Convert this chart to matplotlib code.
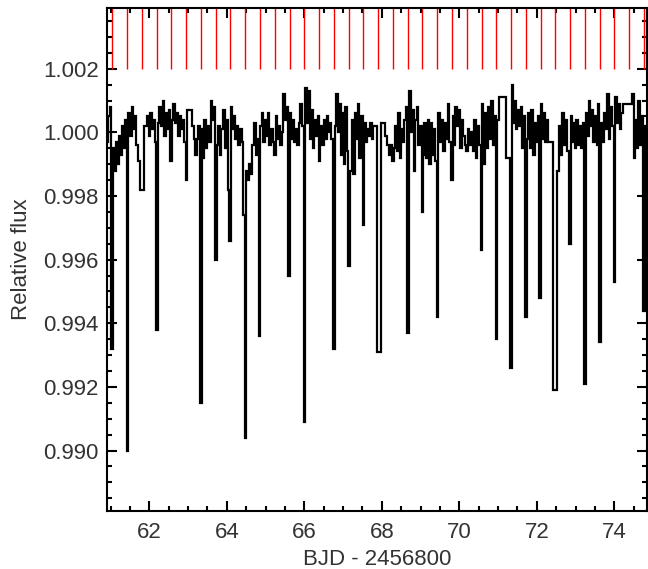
import numpy as np
import matplotlib
matplotlib.use('Agg')
import matplotlib.pyplot as plt
from matplotlib.ticker import MultipleLocator, FormatStrFormatter

# ---- data ----
time_base = [
    60.92, 60.96, 61.00, 61.08, 61.12, 61.16, 61.20, 61.24,
    61.28, 61.32, 61.36, 61.40, 61.48, 61.52, 61.56, 61.60,
    61.64, 61.68, 61.72, 61.92, 61.96, 62.00, 62.04, 62.08,
    62.12, 62.16, 62.24, 62.28, 62.32, 62.36, 62.40, 62.44,
    62.48, 62.52, 62.60, 62.64, 62.68, 62.72, 62.76, 62.80,
    62.84, 62.88, 62.92, 63.00, 63.08, 63.12, 63.16, 63.20,
    63.24, 63.28, 63.36, 63.40, 63.44, 63.48, 63.52, 63.56,
    63.60, 63.64, 63.68, 63.76, 63.80, 63.84, 63.88, 63.92,
    63.96, 64.00, 64.04, 64.12, 64.16, 64.20, 64.24, 64.28,
    64.32, 64.36, 64.40, 64.44, 64.52, 64.56, 64.60, 64.64,
    64.68, 64.72, 64.76, 64.80, 64.88, 64.92, 64.96, 65.00,
    65.04, 65.08, 65.12, 65.16, 65.20, 65.28, 65.32, 65.36,
    65.40, 65.44, 65.48, 65.52, 65.56, 65.64, 65.68, 65.72,
    65.76, 65.80, 65.84, 65.88, 65.92, 65.96, 66.04, 66.08,
    66.12, 66.16, 66.20, 66.24, 66.28, 66.32, 66.36, 66.44,
    66.48, 66.52, 66.56, 66.60, 66.64, 66.68, 66.72, 66.80,
    66.84, 66.88, 66.92, 66.96, 67.00, 67.04, 67.08, 67.12,
    67.20, 67.24, 67.28, 67.32, 67.36, 67.40, 67.44, 67.48,
    67.56, 67.60, 67.64, 67.68, 67.72, 67.76, 67.80, 67.84,
    68.04, 68.12, 68.16, 68.20, 68.24, 68.32, 68.36, 68.40,
    68.44, 68.48, 68.52, 68.56, 68.60, 68.64, 68.72, 68.76,
    68.80, 68.84, 68.88, 68.92, 68.96, 69.00, 69.08, 69.12,
    69.16, 69.20, 69.24, 69.28, 69.32, 69.36, 69.40, 69.48,
    69.52, 69.56, 69.60, 69.64, 69.68, 69.72, 69.76, 69.84,
    69.88, 69.92, 69.96, 70.00, 70.04, 70.08, 70.12, 70.16,
    70.24, 70.28, 70.32, 70.36, 70.40, 70.44, 70.48, 70.52,
    70.60, 70.64, 70.68, 70.72, 70.76, 70.80, 70.84, 70.88,
    70.92, 71.00, 71.04, 71.16, 71.24, 71.28, 71.36, 71.40, 71.44,
    71.48, 71.52, 71.56, 71.60, 71.64, 71.68, 71.76, 71.80,
    71.84, 71.88, 71.92, 71.96, 72.00, 72.04, 72.12, 72.16,
    72.20, 72.24, 72.28, 72.32, 72.36, 72.56, 72.60, 72.64,
    72.68, 72.72, 72.76, 72.80, 72.88, 72.92, 72.96, 73.00,
    73.04, 73.08, 73.12, 73.16, 73.20, 73.28, 73.32, 73.36,
    73.40, 73.44, 73.48, 73.52, 73.56, 73.60, 73.68, 73.72,
    73.76, 73.80, 73.84, 73.88, 73.92, 73.96, 74.04, 74.08,
    74.12, 74.16, 74.20, 74.24, 74.44, 74.48, 74.52, 74.56,
    74.60, 74.64, 74.68, 74.72, 74.80, 74.84,
]
flux_base = [
    0.9997, 1.0005, 1.0008, 0.9995, 0.9988, 0.9997, 0.9990, 0.9999,
    0.9993, 1.0002, 0.9995, 1.0004, 1.0006, 0.9999, 1.0008, 1.0001,
    1.0005, 0.9996, 0.9991, 1.0002, 1.0005, 0.9999, 1.0006, 1.0001,
    1.0004, 0.9997, 1.0003, 1.0008, 1.0002, 1.0010, 0.9999, 1.0006,
    1.0001, 1.0007, 1.0004, 1.0009, 1.0003, 1.0006, 0.9999, 1.0005,
    1.0001, 1.0004, 0.9997, 1.0007, 1.0007, 1.0002, 0.9998, 0.9993,
    0.9998, 1.0002, 1.0001, 0.9992, 1.0004, 0.9995, 1.0002, 0.9997,
    1.0010, 1.0004, 1.0008, 0.9996, 1.0002, 0.9993, 1.0001, 1.0007,
    0.9995, 1.0004, 0.9982, 1.0008, 1.0001, 1.0005, 0.9998, 1.0002,
    0.9996, 1.0001, 0.9997, 0.9974, 0.9988, 0.9985, 0.9990, 0.9987,
    0.9996, 1.0003, 0.9993, 0.9998, 1.0002, 1.0006, 0.9997, 1.0004,
    0.9999, 1.0006, 0.9996, 1.0001, 0.9997, 1.0005, 0.9998, 1.0002,
    0.9996, 1.0000, 1.0012, 1.0004, 1.0008, 1.0006, 0.9998, 1.0004,
    0.9997, 1.0001, 0.9996, 1.0003, 1.0009, 1.0002, 1.0014, 1.0003,
    1.0013, 0.9998, 1.0007, 0.9995, 1.0004, 0.9999, 1.0005, 1.0002,
    0.9996, 1.0004, 0.9998, 1.0005, 1.0000, 1.0003, 0.9998, 1.0002,
    1.0012, 1.0000, 1.0009, 0.9993, 1.0006, 0.9990, 1.0008, 0.9994,
    0.9988, 1.0004, 0.9987, 1.0006, 0.9998, 1.0009, 0.9992, 1.0005,
    1.0003, 0.9997, 1.0001, 0.9999, 1.0003, 0.9998, 1.0002, 1.0002,
    1.0003, 0.9999, 0.9996, 0.9993, 0.9996, 0.9995, 1.0002, 0.9994,
    1.0006, 0.9992, 1.0001, 0.9997, 1.0004, 1.0008, 1.0013, 1.0000,
    1.0007, 0.9988, 1.0004, 1.0008, 0.9996, 1.0002, 0.9993, 1.0003,
    0.9992, 1.0004, 0.9990, 1.0003, 0.9993, 1.0001, 0.9991, 1.0006,
    0.9997, 1.0004, 0.9994, 1.0003, 0.9998, 1.0009, 0.9997, 1.0005,
    0.9996, 1.0008, 1.0002, 1.0007, 0.9995, 1.0004, 0.9999, 0.9996,
    1.0001, 0.9996, 1.0000, 0.9994, 1.0004, 0.9992, 1.0002, 0.9996,
    1.0009, 0.9990, 1.0006, 0.9995, 1.0008, 0.9998, 1.0010, 0.9996,
    1.0005, 1.0004, 1.0011, 1.0011, 0.9992, 0.9992, 1.0015, 1.0003, 1.0010,
    1.0001, 1.0007, 1.0002, 1.0008, 0.9995, 1.0005, 0.9998, 1.0006,
    0.9995, 1.0007, 0.9993, 1.0003, 0.9997, 1.0005, 1.0009, 0.9998,
    1.0006, 0.9997, 1.0004, 0.9997, 0.9997, 0.9988, 1.0002, 0.9993,
    1.0006, 0.9996, 1.0004, 0.9994, 1.0005, 0.9997, 1.0003, 0.9995,
    1.0004, 0.9996, 1.0002, 0.9995, 1.0003, 1.0006, 0.9999, 1.0010,
    1.0002, 1.0007, 0.9997, 1.0005, 0.9996, 1.0009, 1.0003, 0.9997,
    1.0006, 1.0001, 1.0012, 0.9998, 1.0008, 1.0002, 1.0011, 1.0003,
    1.0009, 1.0001, 1.0006, 1.0009, 1.0009, 1.0012, 0.9992, 1.0004,
    0.9995, 1.0010, 0.9996, 1.0005, 1.0002, 0.9998,
]

# in-eclipse points
dip_time = [
    61.045, 61.426, 61.807, 62.188, 62.570, 62.951, 63.332, 63.713,
    64.094, 64.475, 64.856, 65.237, 65.618, 66.000, 66.381, 66.762,
    67.143, 67.524, 67.905, 68.286, 68.667, 69.048, 69.430, 69.811,
    70.192, 70.573, 70.954, 71.335, 71.716, 72.097, 72.478, 72.859,
    73.240, 73.622, 74.003, 74.765,
]
dip_flux = [
    0.9932, 0.9900, 0.9982, 0.9938, 0.9991, 0.9985, 0.9915, 0.9960,
    0.9966, 0.9904, 0.9936, 0.9993, 0.9955, 0.9909, 0.9991, 0.9932,
    0.9958, 0.9971, 0.9931, 0.9991, 0.9937, 0.9975, 0.9942, 0.9985,
    0.9994, 0.9963, 0.9935, 0.9926, 0.9942, 0.9948, 0.9919, 0.9965,
    0.9921, 0.9934, 0.9953, 0.9944,
]

# predicted eclipse times (red markers)
marker_time = [
    61.045, 61.426, 61.807, 62.188, 62.570, 62.951, 63.332, 63.713,
    64.094, 64.475, 64.856, 65.237, 65.618, 66.000, 66.381, 66.762,
    67.143, 67.524, 67.905, 68.286, 68.667, 69.048, 69.430, 69.811,
    70.192, 70.573, 70.954, 71.335, 71.716, 72.097, 72.478, 72.859,
    73.240, 73.622, 74.003, 74.384, 74.765,
]
marker_bottom = 1.002

x_label = "BJD - 2456800"
y_label = "Relative flux"

# ---- plotting ----
plt.rcParams['font.family'] = ['Liberation Sans', 'DejaVu Sans']

fig = plt.figure(figsize=(6.48, 5.69), dpi=100)
W, H = 648.0, 569.0
left, right, top, bottom = 107.3, 646.5, 8.3, 511.0
ax = fig.add_axes([left / W, 1 - bottom / H, (right - left) / W, (bottom - top) / H])

t = np.concatenate([np.asarray(time_base), np.asarray(dip_time)])
f = np.concatenate([np.asarray(flux_base), np.asarray(dip_flux)])
order = np.argsort(t)
ax.plot(t[order], f[order], drawstyle='steps-mid', color='black', lw=1.6,
        solid_joinstyle='miter', zorder=3)

ylo, yhi = 0.9881, 1.0039
ax.vlines(marker_time, marker_bottom, yhi, color='#ff0000', lw=1.0, zorder=2)

ax.set_xlim(60.915, 74.83)
ax.set_ylim(ylo, yhi)

ax.xaxis.set_major_locator(MultipleLocator(2))
ax.xaxis.set_minor_locator(MultipleLocator(0.5))
ax.yaxis.set_major_locator(MultipleLocator(0.002))
ax.yaxis.set_minor_locator(MultipleLocator(0.0005))
ax.xaxis.set_major_formatter(FormatStrFormatter('%d'))
ax.yaxis.set_major_formatter(FormatStrFormatter('%.3f'))

ax.tick_params(which='both', direction='in', top=True, right=True,
               width=1.5, colors='black', labelcolor='#333333', labelsize=16)
ax.tick_params(which='major', length=7.2)
ax.tick_params(which='minor', length=3.6)
ax.tick_params(axis='x', which='major', pad=8)
ax.tick_params(axis='y', which='major', pad=6)
for s in ax.spines.values():
    s.set_linewidth(1.5)

ax.set_xlabel(x_label, fontsize=16, color='#333333', labelpad=4)
ax.set_ylabel(y_label, fontsize=16, color='#333333', labelpad=8)

fig.savefig('out.png', dpi=100)
